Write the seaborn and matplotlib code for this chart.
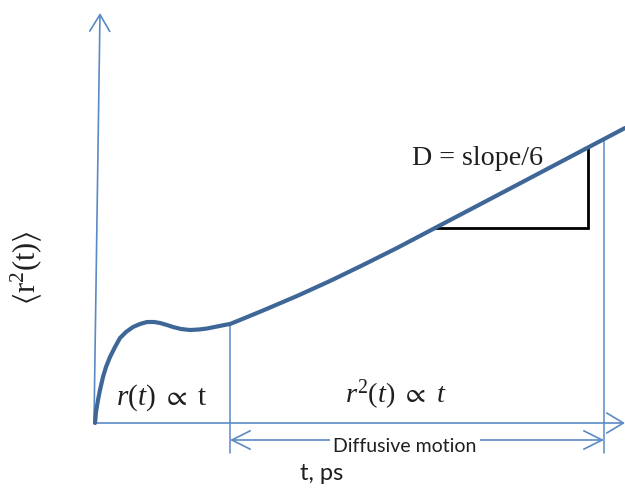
import numpy as np
import pandas as pd
import matplotlib
matplotlib.use("Agg")
import matplotlib.pyplot as plt
import seaborn as sns

# Schematic mean-square displacement curve (arbitrary units)
t_vals = [1, 2, 4, 6, 9, 12, 16, 21, 26, 32, 39, 46, 53, 60, 66, 73, 79, 87, 96,
          105, 113, 123, 133, 136, 146, 169, 203, 236, 269, 303, 341, 420, 531]
msd_vals = [0, 11, 23, 33, 46, 56, 66, 76, 85, 91, 96, 99, 101, 101, 100, 98, 96,
            94, 93, 93.5, 94.5, 96.5, 98.5, 99, 103, 112.5, 127, 142, 158, 175, 195,
            236.5, 295]

# Regime boundaries along t
t_ballistic_end = 136
t_diffusive_end = 510
# Slope triangle along the linear part
t_tri_start = 341
t_tri_end = 494

label_x = "t, ps"
label_y = r"$\langle \mathrm{r}^2(\mathrm{t}) \rangle$"
label_ballistic = r"$r(t)\ \propto\ \mathrm{t}$"
label_diffusive = r"$r^2(t)\ \propto\ t$"
label_slope = "D = slope/6"
label_band = "Diffusive motion"

sns.set_theme(style="white")
plt.rcParams["mathtext.fontset"] = "custom"
plt.rcParams["mathtext.rm"] = "Liberation Serif"
plt.rcParams["mathtext.it"] = "Liberation Serif:italic"
plt.rcParams["mathtext.fallback"] = "stix"

AXIS_C = "#5A8AC6"
CURVE_C = "#3E6798"
TEXT_C = "#1f1f1f"

df = pd.DataFrame({"t": t_vals, "msd": msd_vals})

fig = plt.figure(figsize=(6.25, 4.91), dpi=100)
ax = fig.add_axes([0, 0, 1, 1])
ax.set_xlim(-94, 531)
ax.set_ylim(-68, 423)
ax.axis("off")

# Axes with arrowheads
ax.annotate("", xy=(531, 0), xytext=(0, 0),
            arrowprops=dict(arrowstyle="->,head_length=1.0,head_width=0.6",
                            color=AXIS_C, lw=1.2, shrinkA=0, shrinkB=0))
ax.annotate("", xy=(6, 410), xytext=(0, 0),
            arrowprops=dict(arrowstyle="->,head_length=1.0,head_width=0.6",
                            color=AXIS_C, lw=1.2, shrinkA=0, shrinkB=0))

# Curve
sns.lineplot(data=df, x="t", y="msd", ax=ax, color=CURVE_C, lw=3.0,
             solid_capstyle="round", solid_joinstyle="round", zorder=5)

# Regime boundary lines
y_b = np.interp(t_ballistic_end, t_vals, msd_vals)
y_d = np.interp(t_diffusive_end, t_vals, msd_vals)
ax.plot([t_ballistic_end, t_ballistic_end], [-30, y_b], color=AXIS_C, lw=1.1, zorder=3)
ax.plot([t_diffusive_end, t_diffusive_end], [-30, y_d], color=AXIS_C, lw=1.1, zorder=3)

# Double arrow for diffusive regime
ax.annotate("", xy=(t_ballistic_end, -17), xytext=(t_diffusive_end, -17),
            arrowprops=dict(arrowstyle="<->,head_length=1.1,head_width=0.55",
                            color=AXIS_C, lw=1.2, shrinkA=0, shrinkB=0))
ax.text(311, -23, label_band, ha="center", va="center", fontsize=14,
        family=["Lato", "DejaVu Sans"], color=TEXT_C, zorder=6,
        bbox=dict(boxstyle="square,pad=0.15", fc="white", ec="none"))

# Slope triangle
y_t0 = np.interp(t_tri_start, t_vals, msd_vals)
y_t1 = np.interp(t_tri_end, t_vals, msd_vals)
ax.plot([t_tri_start, t_tri_end, t_tri_end], [y_t0, y_t0, y_t1],
        color="black", lw=2.0, solid_joinstyle="miter", zorder=4)
ax.text(318, 265, label_slope, ha="left", va="center", fontsize=20.2,
        family="Liberation Serif", color=TEXT_C, zorder=6)

# Regime labels
ax.text(68, 25, label_ballistic, ha="center", va="center", fontsize=21,
        color=TEXT_C)
ax.text(302, 28, label_diffusive, ha="center", va="center", fontsize=20.5,
        color=TEXT_C)

# Axis labels
ax.text(228, -51, label_x, ha="center", va="center", fontsize=17,
        family=["Lato", "DejaVu Sans"], color=TEXT_C)
ax.text(-68, 155, label_y, ha="center", va="center", fontsize=22,
        rotation=90, color=TEXT_C)

fig.savefig("out.png", dpi=100)
